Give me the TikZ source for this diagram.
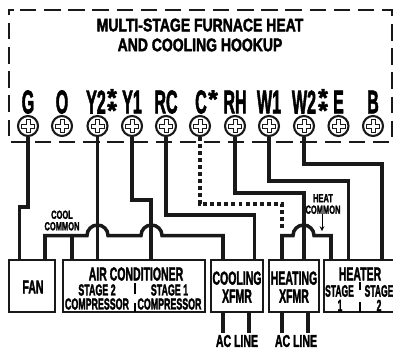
\documentclass[tikz,border=0pt]{standalone}
\usepackage{fontspec}
\setmainfont{Liberation Sans}[BoldFeatures={FakeBold=2.5}]
\usepackage{xcolor}
\usetikzlibrary{arrows,shapes,decorations}
\tikzset{
  wire/.style={line width=3pt, draw=black!90},
  dotwire/.style={line width=3pt, draw=black!90, dash pattern=on 3.4pt off 2.6pt},
  framebox/.style={line width=1.9pt, draw=black!90, dash pattern=on 14pt off 6.6pt},
  screw/.style={circle, draw=black!90, line width=1.8pt, fill=white, minimum size=0.6cm, inner sep=0pt},
  unitbox/.style={draw=black!90, line width=1.8pt, fill=white, minimum height=1.56cm, inner sep=0pt, align=center},
  titletext/.style={font=\bfseries\fontsize{15.5}{17}\selectfont, xscale=.77, align=center, inner sep=0pt},
  termtext/.style={font=\bfseries\fontsize{28}{28}\selectfont, xscale=.49, inner sep=0pt},
  startext/.style={font=\bfseries\fontsize{21}{11.5}\selectfont, align=center, inner sep=0pt},
  unittext/.style={font=\bfseries\fontsize{16}{15.3}\selectfont, xscale=.56, align=center, inner sep=0pt},
  linetext/.style={font=\bfseries\fontsize{14.5}{15}\selectfont, xscale=.62, inner sep=0pt},
  subtext/.style={font=\bfseries\fontsize{13.5}{12}\selectfont, xscale=.56, align=center, inner sep=0pt},
  heatsub/.style={font=\bfseries\fontsize{14}{12}\selectfont, xscale=.52, align=center, inner sep=0pt},
  commontext/.style={font=\bfseries\fontsize{10}{9.8}\selectfont, xscale=.64, align=center, inner sep=0pt},
}
\begin{document}
\begin{tikzpicture}[x=0.03cm, y=-0.03cm]
\useasboundingbox (0,0) rectangle (393,350);
\draw[framebox] (20,10) -- (392,10) -- (392,142) -- (9,142) -- (9,10) -- (14,10);
\node[titletext] (title) at (200,35) {MULTI-STAGE FURNACE HEAT\\AND COOLING HOOKUP};
% terminals
\foreach \name/\x/\lab in {g/28/G, o/62/O, ytwo/96/Y2, yone/132/Y1, rc/166/RC, c/201/C,
                           rh/235/RH, wone/269/W1, wtwo/304/W2, e/338.5/E, b/373/B}
  \node[termtext] (\name lab) at (\x,102) {\lab};
\foreach \name/\x in {g/28, o/62, ytwo/97.5, yone/132, rc/166, c/200,
                      rh/235, wone/269, wtwo/304, e/338.5, b/373}
{
  \node[screw] (\name) at (\x,126) {};
  \draw[line width=.5pt, draw=black!90, shift={(\x,126)}] (-2,-6.5) -- (2,-6.5) -- (2,-2) -- (6.5,-2) -- (6.5,2)
    -- (2,2) -- (2,6.5) -- (-2,6.5) -- (-2,2) -- (-6.5,2) -- (-6.5,-2) -- (-2,-2) -- cycle;
}
\node[startext] (stary) at (112,104) {*\\[-4.5pt]*};
\node[startext] (starc) at (213,99) {*};
\node[startext] (starw) at (323,104) {*\\[-4.5pt]*};
% units
\node[unitbox, minimum width=1.37cm] (fan) at (32.25,286) {};
\node[unitbox, minimum width=4.26cm] (ac) at (134,286) {};
\node[unitbox, minimum width=1.56cm] (coolx) at (237,286) {};
\node[unitbox, minimum width=1.5cm] (heatx) at (294,286) {};
\node[unitbox, minimum width=2.175cm] (heater) at (360,286) {};
\node[unittext] (fanlab) at (33,287) {FAN};
\node[unittext] (aclab) at (136,274) {AIR CONDITIONER};
\node[subtext] (stageb) at (97,290) {STAGE 2};
\node[subtext] (compb) at (97,304) {COMPRESSOR};
\node[subtext] (stagea) at (169.5,290) {STAGE 1};
\node[subtext] (compa) at (169.5,304) {COMPRESSOR};
\node[unittext] (coollab) at (237,287) {COOLING\\XFMR};
\node[unittext] (heatlab) at (294,287) {HEATING\\XFMR};
\node[unittext] (heaterlab) at (360,274) {HEATER};
\node[heatsub] (hstagea) at (339.5,291) {STAGE};
\node[heatsub] (honea) at (340,305.5) {1};
\node[heatsub] (hstageb) at (379,291) {STAGE};
\node[heatsub] (honeb) at (379,305.5) {2};
\node[commontext] (coolcom) at (62,220.5) {COOL\\COMMON};
\node[commontext] (heatcom) at (323,204) {HEAT\\COMMON};
\node[linetext] (lineb) at (237,341) {AC LINE};
\node[linetext] (linea) at (296,341) {AC LINE};
% ticks
\draw[line width=1.8pt] (135,283) -- (135,294) (135,303) -- (135,312);
\draw[line width=1.8pt] (360,282) -- (360,290) (360,302) -- (360,312);
% free ends on the boxes
\coordinate (fang) at (19.5,260);
\coordinate (fanc) at (45,260);
\coordinate (accom) at (72,260);
\coordinate (acb) at (97.5,260);
\coordinate (aca) at (151,260);
\coordinate (coolc) at (223,260);
\coordinate (coolr) at (254.7,260);
\coordinate (heatc) at (282,260);
\coordinate (heatr) at (304,260);
\coordinate (heatcm) at (331,260);
\coordinate (hone) at (348.7,260);
\coordinate (htwo) at (382,260);
\coordinate (linebl) at (223,333);
\coordinate (linebr) at (249,333);
\coordinate (lineal) at (282,333);
\coordinate (linear) at (308,333);
\coordinate (heatarrow) at (322,231);
% wires
\draw[wire] (g.south) -- (28,207) -- (19.5,207) -- (fang);
\draw[wire] (ytwo.south) -- (acb);
\draw[wire] (yone.south) -- (132,200) -- (151,200) -- (aca);
\draw[wire] (rc.south) -- (166,215) -- (254.7,215) -- (coolr);
\draw[wire] (rh.south) -- (235,193) -- (304,193) -- (heatr);
\draw[wire] (wone.south) -- (269,181) -- (348.7,181) -- (hone);
\draw[wire] (wtwo.south) -- (304,164) -- (382,164) -- (htwo);
\draw[wire] (fanc) -- (45,235.5) -- (87,235.5) arc[start angle=180, end angle=360, radius=10.5]
  -- (141,235.5) arc[start angle=180, end angle=360, radius=10.5] -- (223,235.5) -- (coolc);
\draw[wire] (72,235.5) -- (accom);
\draw[dotwire] (c.south) -- (200,204) -- (282,204) -- (282,230);
\draw[wire] (heatc) -- (282,235.5) -- (293,235.5) arc[start angle=180, end angle=360, radius=10.5]
  -- (331,235.5) -- (heatcm);
\draw[wire] (223,312) -- (linebl);
\draw[wire] (249,312) -- (linebr);
\draw[wire] (282,312) -- (lineal);
\draw[wire] (308,312) -- (linear);
\draw[line width=.8pt, ->, >=stealth] (heatcom.south -| heatarrow) -- (heatarrow);
\end{tikzpicture}
\end{document}
